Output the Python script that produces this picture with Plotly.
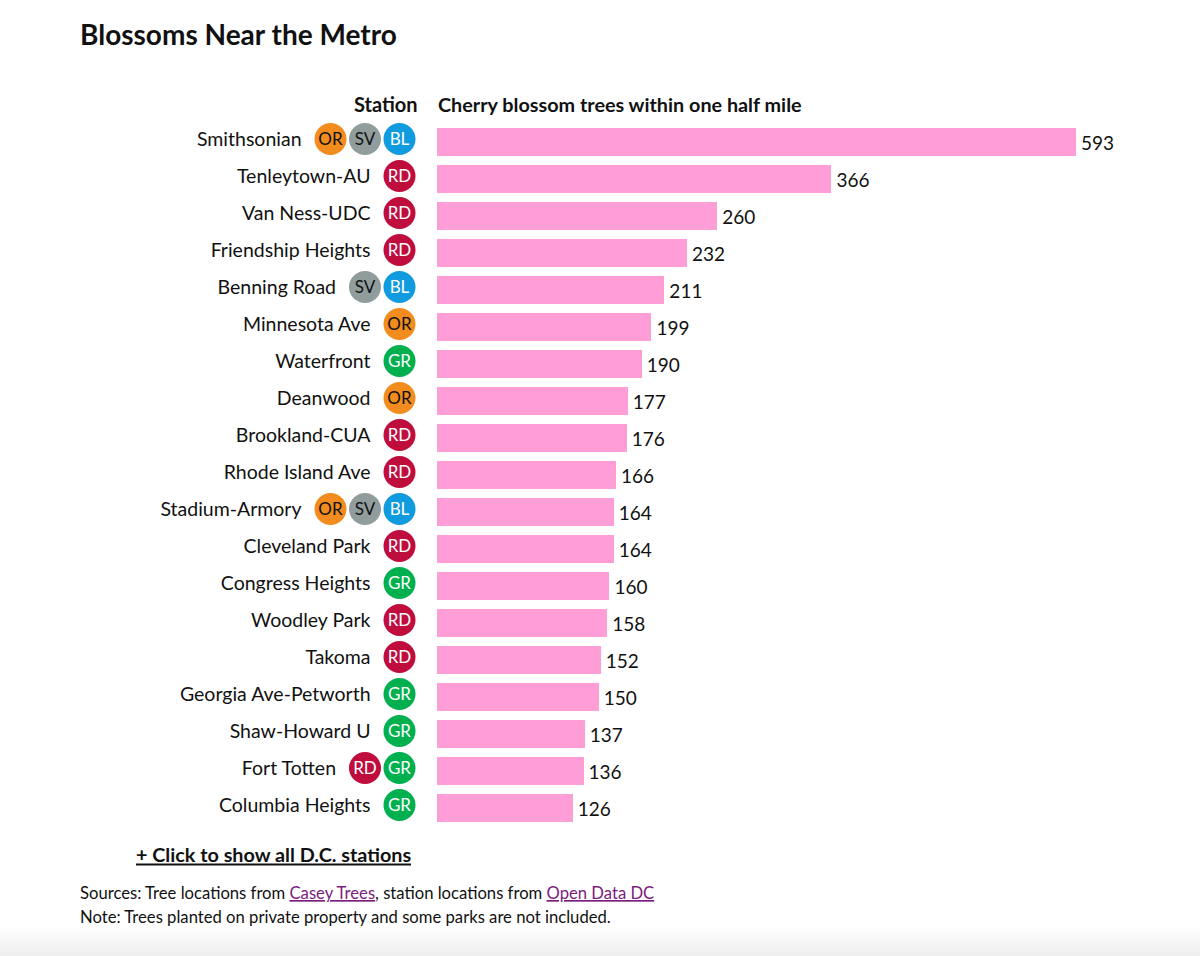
import plotly.graph_objects as go

stations = ["Smithsonian", "Tenleytown-AU", "Van Ness-UDC", "Friendship Heights", "Benning Road",
            "Minnesota Ave", "Waterfront", "Deanwood", "Brookland-CUA", "Rhode Island Ave",
            "Stadium-Armory", "Cleveland Park", "Congress Heights", "Woodley Park", "Takoma",
            "Georgia Ave-Petworth", "Shaw-Howard U", "Fort Totten", "Columbia Heights"]
trees = [593, 366, 260, 232, 211, 199, 190, 177, 176, 166, 164, 164, 160, 158, 152, 150, 137, 136, 126]
metro_lines = [["BL", "SV", "OR"], ["RD"], ["RD"], ["RD"], ["BL", "SV"], ["OR"], ["GR"], ["OR"], ["RD"], ["RD"],
               ["BL", "SV", "OR"], ["RD"], ["GR"], ["RD"], ["RD"], ["GR"], ["GR"], ["GR", "RD"], ["GR"]]
line_fill = {"OR": "#F28C1E", "SV": "#919D9D", "BL": "#0F9BDD", "RD": "#BF0D3E", "GR": "#00B04F"}
line_ink = {"OR": "#111111", "SV": "#111111", "BL": "#FFFFFF", "RD": "#FFFFFF", "GR": "#FFFFFF"}

FONT = "Lato, sans-serif"
INK = "#111111"
W, H = 1200, 956
BAR_LEFT = 437
PX_PER_TREE = (1076 - BAR_LEFT) / 593
ROW = 37
TOP = 141.5 - ROW / 2
BOTTOM = 807.5 + ROW / 2
BADGE_SHIFT = 2.5
TEXT_SHIFT = 0.5
VALUE_SHIFT = -3.5
VALUE_GAP = 5
SLOT = 34.5
SLOT0 = 399.5

fig = go.Figure()
fig.add_bar(x=trees, y=stations, orientation="h", width=28 / ROW, marker=dict(color="#FF9ED6", line_width=0),
            hoverinfo="x+y", showlegend=False)
fig.add_scatter(x=trees, y=stations, xaxis="x3", yaxis="y4", mode="text", text=[str(v) for v in trees],
                textposition="middle right", cliponaxis=False, hoverinfo="skip", showlegend=False,
                textfont=dict(family=FONT, size=19, color=INK))

label_slots = [len(l) - 1 + 0.84 for l in metro_lines]
fig.add_scatter(x=label_slots, y=stations, xaxis="x2", yaxis="y3", mode="text", text=stations,
                textposition="middle left", cliponaxis=False, hoverinfo="skip", showlegend=False,
                textfont=dict(family=FONT, size=19.5, color=INK))

for code, fill in line_fill.items():
    xs, ys = [], []
    for name, lines in zip(stations, metro_lines):
        if code in lines:
            xs.append(lines.index(code))
            ys.append(name)
    fig.add_scatter(x=xs, y=ys, xaxis="x2", yaxis="y2", mode="markers", cliponaxis=False, showlegend=False, name=code,
                    marker=dict(size=32, color=fill, line_width=0))
    fig.add_scatter(x=xs, y=ys, xaxis="x2", yaxis="y3", mode="text", text=[code] * len(xs),
                    textposition="middle center", cliponaxis=False, showlegend=False, hoverinfo="skip",
                    textfont=dict(family=FONT, size=17, color=line_ink[code]))

notes = [
    dict(text="<b>Blossoms Near the Metro</b>", x=78, y=34, xanchor="left", size=28),
    dict(text="<b>Station</b>", x=420, y=104, xanchor="right", size=20),
    dict(text="<b>Cherry blossom trees within one half mile</b>", x=436, y=104, xanchor="left", size=19.8),
    dict(text="<b>+ Click to show all D.C. stations</b>", x=134, y=854, xanchor="left", size=19.8),
    dict(text='Sources: Tree locations from <a href="https://caseytrees.org" style="color:#7B1C7E"><u>Casey Trees</u></a>, '
              'station locations from <a href="https://opendata.dc.gov" style="color:#7B1C7E"><u>Open Data DC</u></a>',
         x=78, y=893, xanchor="left", size=16.65),
    dict(text="Note: Trees planted on private property and some parks are not included.",
         x=78, y=917, xanchor="left", size=16.65),
]
annotations = [dict(text=n["text"], x=n["x"] / W, y=1 - n["y"] / H, xref="paper", yref="paper",
                    xanchor=n["xanchor"], yanchor="middle", showarrow=False,
                    font=dict(family=FONT, size=n["size"], color=INK)) for n in notes]

shapes = [dict(type="line", xref="paper", yref="paper", x0=136 / W, x1=411 / W, y0=1 - 864.5 / H, y1=1 - 864.5 / H,
               line=dict(color=INK, width=2))]
for i in range(30):
    level = 255 - round(i * 17 / 29)
    shapes.append(dict(type="rect", xref="paper", yref="paper", x0=0, x1=1, y0=1 - (926 + i) / H, y1=1 - (927 + i) / H,
                       fillcolor=f"rgb({level},{level},{level})", line_width=0, layer="below"))

row_axis = dict(type="category", categoryorder="array", categoryarray=stations,
                range=[len(stations) - 0.5, -0.5], visible=False, fixedrange=True)
fig.update_layout(
    width=W, height=H, margin=dict(l=0, r=0, t=0, b=0, autoexpand=False),
    paper_bgcolor="white", plot_bgcolor="rgba(0,0,0,0)", font=dict(family=FONT, color=INK),
    bargap=0, annotations=annotations, shapes=shapes,
    xaxis=dict(domain=[BAR_LEFT / W, 1], range=[0, (W - BAR_LEFT) / PX_PER_TREE], visible=False, fixedrange=True),
    yaxis=dict(domain=[1 - BOTTOM / H, 1 - TOP / H], **row_axis),
    xaxis2=dict(domain=[0, BAR_LEFT / W], anchor="y2", range=[SLOT0 / SLOT, (SLOT0 - BAR_LEFT) / SLOT], visible=False, fixedrange=True),
    yaxis2=dict(domain=[1 - (BOTTOM - BADGE_SHIFT) / H, 1 - (TOP - BADGE_SHIFT) / H], anchor="x2", **row_axis),
    yaxis3=dict(domain=[1 - (BOTTOM - TEXT_SHIFT) / H, 1 - (TOP - TEXT_SHIFT) / H], anchor="x2", **row_axis),
    xaxis3=dict(domain=[(BAR_LEFT + VALUE_GAP) / W, 1], anchor="y4", range=[0, (W - BAR_LEFT - VALUE_GAP) / PX_PER_TREE], visible=False, fixedrange=True),
    yaxis4=dict(domain=[1 - (BOTTOM - VALUE_SHIFT) / H, 1 - (TOP - VALUE_SHIFT) / H], anchor="x3", **row_axis),
)

fig.write_html("out.html", config={"displayModeBar": False},
               post_script="document.body.style.margin='0';document.body.style.overflow='hidden';")
